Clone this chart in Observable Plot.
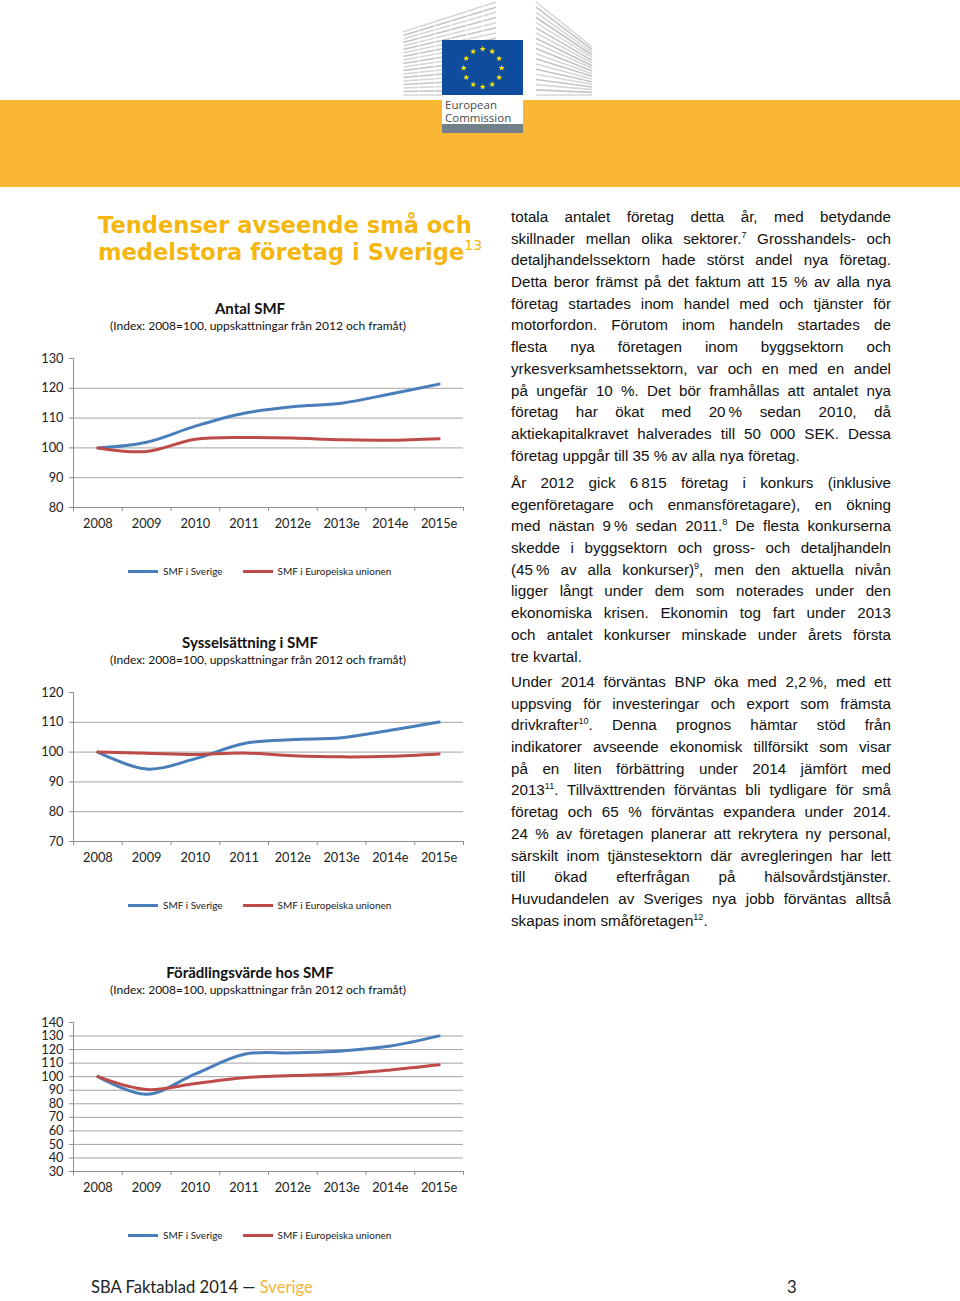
<!DOCTYPE html>
<html>
<head>
<meta charset="utf-8">
<script src="https://cdn.jsdelivr.net/npm/d3@7"></script>
<script src="https://cdn.jsdelivr.net/npm/@observablehq/plot@0.6"></script>
<style>
  html, body { margin: 0; padding: 0; background: #fff; }
  #page { position: relative; width: 960px; height: 1301px; overflow: hidden; background: #fff; }
  .abs { position: absolute; }
  #band { left: 0; top: 100px; width: 960px; height: 87px; background: #FBB634; }
  #title { left: 98px; top: 212px; font-family: "DejaVu Sans", Verdana, sans-serif; font-weight: bold; font-size: 22.6px; line-height: 27px; color: #F5B60F; white-space: nowrap; }
  #title sup { font-weight: normal; font-size: 14px; position: relative; top: -10px; vertical-align: 0; line-height: 0; }
  .ctitle { font-family: Lato, sans-serif; font-weight: bold; font-size: 15px; color: #111; text-align: center; width: 460px; left: 20px; }
  .csub { font-family: Lato, sans-serif; font-size: 12px; color: #111; text-align: center; width: 460px; left: 28px; }
  .legend { font-family: Lato, sans-serif; font-size: 10px; color: #222; white-space: nowrap; }
  .legend .sw { display: inline-block; width: 30px; height: 3px; vertical-align: middle; margin-right: 5px; position: relative; top: -1px; }
  .para { left: 511px; width: 380px; font-family: "Liberation Sans", Arial, sans-serif; font-size: 15.2px; line-height: 21.7px; color: #111; }
  .para .ln { text-align: justify; text-align-last: justify; height: 21.7px; }
  .para .ln.last { text-align-last: left; }
  .para sup { font-size: 9px; position: relative; top: -6px; vertical-align: 0; line-height: 0; }
  #footer { left: 91px; top: 1277px; font-family: Lato, sans-serif; font-size: 16.6px; color: #222; white-space: nowrap; }
  #footer span { color: #F5B335; }
  #pageno { left: 787px; top: 1277px; font-family: Lato, sans-serif; font-size: 16.6px; color: #222; }
</style>
</head>
<body>
<div id="page">
  <div id="band" class="abs"></div>
  <svg id="logo" class="abs" style="left:0;top:0" width="960" height="140"></svg>
  <div id="title" class="abs">Tendenser avseende små och<br>medelstora företag i Sverige<sup>13</sup></div>
  <div id="footer" class="abs">SBA Faktablad 2014 — <span>Sverige</span></div>
  <div id="pageno" class="abs">3</div>
</div>
<script>
// ---------- DATA ----------
const years = ["2008", "2009", "2010", "2011", "2012e", "2013e", "2014e", "2015e"];
const seriesNames = ["SMF i Sverige", "SMF i Europeiska unionen"];

const antalSverige = [100, 101.9, 107.3, 111.6, 113.8, 115.0, 118.1, 121.4];
const antalEU      = [100, 98.8, 102.9, 103.5, 103.3, 102.7, 102.6, 103.1];
const antalTicks   = [80, 90, 100, 110, 120, 130];

const sysselSverige = [100, 94.3, 97.8, 102.9, 104.2, 104.8, 107.3, 110.1];
const sysselEU      = [100, 99.6, 99.2, 99.7, 98.8, 98.4, 98.6, 99.4];
const sysselTicks   = [70, 80, 90, 100, 110, 120];

const foradSverige = [100, 87.1, 102.0, 116.6, 117.6, 119.0, 122.6, 130.1];
const foradEU      = [100, 90.5, 95.0, 99.2, 100.8, 102.0, 105.0, 108.8];
const foradTicks   = [30, 40, 50, 60, 70, 80, 90, 100, 110, 120, 130, 140];

const chartTitles = ["Antal SMF", "Sysselsättning i SMF", "Förädlingsvärde hos SMF"];
const chartSubtitle = "(Index: 2008=100, uppskattningar från 2012 och framåt)";

const colors = ["#4A7EBB", "#BE4B48"];

// ---------- LOGO (decoration) ----------
(function drawLogo() {
  const svg = d3.select("#logo");
  const g = svg.append("g");
  for (let k = 0; k <= 18; k++) {
    const yl = 95 - k * (63 / 18), yr = 95 - k * (93 / 18);
    g.append("line").attr("x1", 403).attr("y1", yl).attr("x2", 496).attr("y2", yr)
      .attr("stroke", k % 2 ? "#c4c4c4" : "#d6d6d6").attr("stroke-width", 1.6);
  }
  for (let k = 0; k < 6; k++) {
    const x = 403 + k * 16;
    g.append("line").attr("x1", x).attr("y1", 95).attr("x2", x).attr("y2", 32 - (x - 403) * 30 / 93)
      .attr("stroke", "#fff").attr("stroke-width", 0.8);
  }
  for (let k = 0; k <= 18; k++) {
    const yl = 95 - k * (93 / 18), yr = 95 - k * (48 / 18);
    g.append("line").attr("x1", 536).attr("y1", yl).attr("x2", 592).attr("y2", yr)
      .attr("stroke", k % 2 ? "#c4c4c4" : "#d6d6d6").attr("stroke-width", 1.6);
  }
  g.append("rect").attr("x", 442).attr("y", 40).attr("width", 81).attr("height", 93).attr("fill", "#fff");
  g.append("rect").attr("x", 442).attr("y", 40).attr("width", 81).attr("height", 55).attr("fill", "#0F4C9E");
  g.append("rect").attr("x", 442).attr("y", 124).attr("width", 81).attr("height", 9).attr("fill", "#72808A");
  const cx = 482.7, cy = 68, R = 19;
  for (let i = 0; i < 12; i++) {
    const a = i * Math.PI / 6;
    const sx = cx + R * Math.sin(a), sy = cy - R * Math.cos(a);
    let pts = [];
    for (let j = 0; j < 10; j++) {
      const rr = j % 2 ? 1.3 : 3.2;
      const b = j * Math.PI / 5;
      pts.push([sx + rr * Math.sin(b), sy - rr * Math.cos(b)]);
    }
    g.append("polygon").attr("points", pts.map(p => p.join(",")).join(" ")).attr("fill", "#FFE800");
  }
  g.append("text").attr("x", 445).attr("y", 109).text("European")
    .attr("font-family", "Open Sans, sans-serif").attr("font-size", 11.5).attr("fill", "#4a4a4a");
  g.append("text").attr("x", 445).attr("y", 121.5).text("Commission")
    .attr("font-family", "Open Sans, sans-serif").attr("font-size", 11.5).attr("fill", "#4a4a4a");
})();

// ---------- CHARTS ----------
function makeChart(se, eu, ticks, top, idx) {
  const ymin = ticks[0], ymax = ticks[ticks.length - 1];
  const data = [];
  years.forEach((y, i) => data.push({i, v: se[i], s: seriesNames[0]}));
  years.forEach((y, i) => data.push({i, v: eu[i], s: seriesNames[1]}));
  const axisColor = "#8a8f96";
  const chart = Plot.plot({
    width: 460, height: 200,
    marginLeft: 53, marginRight: 17, marginTop: 18, marginBottom: 33,
    style: {fontFamily: "Lato, sans-serif", fontSize: "12px", color: "#222", background: "transparent", overflow: "visible"},
    x: {type: "linear", domain: [-0.5, years.length - 0.5]},
    y: {domain: [ymin, ymax]},
    color: {domain: seriesNames, range: colors},
    marks: [
      Plot.ruleY(ticks.slice(1, -1), {stroke: "#a3a3a3", strokeWidth: 1}),
      Plot.ruleX([-0.5], {stroke: axisColor, strokeWidth: 1}),
      Plot.ruleY([ymin], {stroke: axisColor, strokeWidth: 1}),
      Plot.axisY({ticks: ticks, tickSize: 4, tickPadding: 6, stroke: axisColor, fill: "#222", label: null, fontSize: 12.8}),
      Plot.axisX({ticks: d3.range(0, years.length + 1).map(k => k - 0.5), tickSize: 4, tickFormat: () => "", stroke: axisColor, label: null}),
      Plot.axisX({ticks: d3.range(years.length), tickSize: 0, tickPadding: 11, tickFormat: k => years[k], fill: "#222", label: null, fontSize: 12.8}),
      Plot.line(data, {x: "i", y: "v", z: "s", stroke: "s", strokeWidth: 3, curve: "catmull-rom"})
    ]
  });
  const page = document.getElementById("page");
  const wrap = document.createElement("div");
  wrap.className = "abs";
  wrap.style.left = "20px";
  wrap.style.top = top + "px";
  wrap.appendChild(chart);
  page.appendChild(wrap);

  const t = document.createElement("div");
  t.className = "abs ctitle";
  t.style.top = (top - 41) + "px";
  t.textContent = chartTitles[idx];
  page.appendChild(t);
  const s = document.createElement("div");
  s.className = "abs csub";
  s.style.top = (top - 22) + "px";
  s.textContent = chartSubtitle;
  page.appendChild(s);

  const lg = document.createElement("div");
  lg.className = "abs legend";
  lg.style.left = "128px";
  lg.style.top = (top + 225) + "px";
  lg.innerHTML = `<span class="sw" style="background:${colors[0]}"></span>${seriesNames[0]}` +
    `<span style="display:inline-block;width:20px"></span>` +
    `<span class="sw" style="background:${colors[1]}"></span>${seriesNames[1]}`;
  page.appendChild(lg);
}

makeChart(antalSverige, antalEU, antalTicks, 340, 0);
makeChart(sysselSverige, sysselEU, sysselTicks, 674, 1);
makeChart(foradSverige, foradEU, foradTicks, 1004, 2);

// ---------- TEXT ----------
const para1 = [
  "totala antalet företag detta år, med betydande",
  "skillnader mellan olika sektorer.<sup>7</sup> Grosshandels- och",
  "detaljhandelssektorn hade störst andel nya företag.",
  "Detta beror främst på det faktum att 15 % av alla nya",
  "företag startades inom handel med och tjänster för",
  "motorfordon. Förutom inom handeln startades de",
  "flesta nya företagen inom byggsektorn och",
  "yrkesverksamhetssektorn, var och en med en andel",
  "på ungefär 10 %. Det bör framhållas att antalet nya",
  "företag har ökat med 20\u202F% sedan 2010, då",
  "aktiekapitalkravet halverades till 50 000 SEK. Dessa",
  "företag uppgår till 35 % av alla nya företag."
];
const para2 = [
  "År 2012 gick 6\u202F815 företag i konkurs (inklusive",
  "egenföretagare och enmansföretagare), en ökning",
  "med nästan 9\u202F% sedan 2011.<sup>8</sup> De flesta konkurserna",
  "skedde i byggsektorn och gross- och detaljhandeln",
  "(45\u202F% av alla konkurser)<sup>9</sup>, men den aktuella nivån",
  "ligger långt under dem som noterades under den",
  "ekonomiska krisen. Ekonomin tog fart under 2013",
  "och antalet konkurser minskade under årets första",
  "tre kvartal."
];
const para3 = [
  "Under 2014 förväntas BNP öka med 2,2\u202F%, med ett",
  "uppsving för investeringar och export som främsta",
  "drivkrafter<sup>10</sup>. Denna prognos hämtar stöd från",
  "indikatorer avseende ekonomisk tillförsikt som visar",
  "på en liten förbättring under 2014 jämfört med",
  "2013<sup>11</sup>. Tillväxttrenden förväntas bli tydligare för små",
  "företag och 65 % förväntas expandera under 2014.",
  "24 % av företagen planerar att rekrytera ny personal,",
  "särskilt inom tjänstesektorn där avregleringen har lett",
  "till ökad efterfrågan på hälsovårdstjänster.",
  "Huvudandelen av Sveriges nya jobb förväntas alltså",
  "skapas inom småföretagen<sup>12</sup>."
];
function addPara(lines, top) {
  const p = document.createElement("div");
  p.className = "abs para";
  p.style.top = top + "px";
  p.innerHTML = lines.map((l, i) => `<div class="ln${i === lines.length - 1 ? " last" : ""}">${l}</div>`).join("");
  document.getElementById("page").appendChild(p);
}
addPara(para1, 206);
addPara(para2, 472);
addPara(para3, 671);
</script>
</body>
</html>
